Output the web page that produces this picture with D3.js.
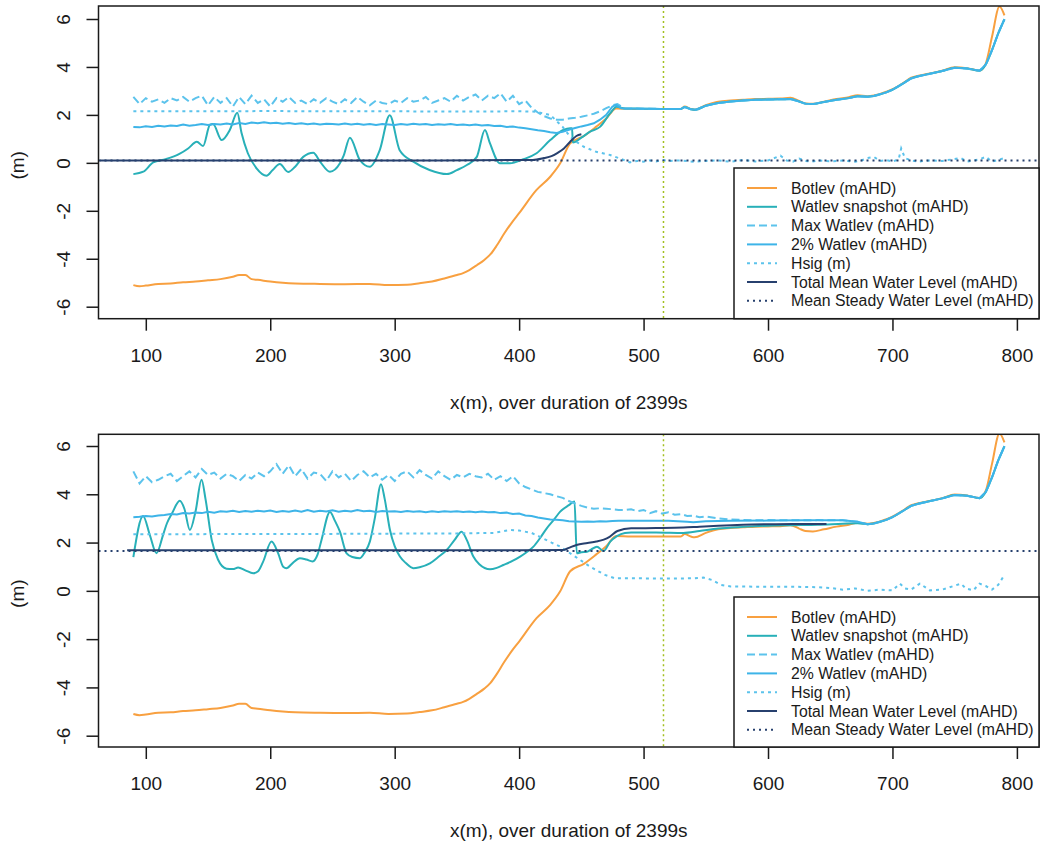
<!DOCTYPE html>
<html>
<head>
<meta charset="utf-8">
<script src="https://cdn.jsdelivr.net/npm/d3@7"></script>
<style>
  html, body { margin: 0; padding: 0; background: #fff; }
  svg { display: block; }
  text { font-family: "Liberation Sans", Arial, sans-serif; fill: #1a1a1a; }
</style>
</head>
<body>
<svg id="chart" width="1041" height="845"></svg>
<script>
// ---------------- DATA ----------------
const xTicks = [100, 200, 300, 400, 500, 600, 700, 800];
const yTicks = [-6, -4, -2, 0, 2, 4, 6];
const xTitle = "x(m), over duration of 2399s";
const yTitle = "(m)";
const markerX = 516;

const seriesNames = ["Botlev (mAHD)", "Watlev snapshot (mAHD)", "Max Watlev (mAHD)", "2% Watlev (mAHD)",
  "Hsig (m)", "Total Mean Water Level (mAHD)", "Mean Steady Water Level (mAHD)"];

// Bed level (same in both panels)
const botX = [90,95,100,110,120,130,140,150,160,170,175,180,185,190,200,210,220,240,260,280,295,310,320,330,340,350,355,360,366,372,377,382,388,394,400,414,425,433,441,452,462,470,478,490,500,510,520,530,533,538,541,550,560,570,580,590,600,610,618,625,630,636,645,655,665,672,680,685,695,700,710,715,720,740,750,760,770,775,780,786,790];
const botY = [-5.10,-5.15,-5.12,-5.05,-5.03,-4.98,-4.95,-4.90,-4.85,-4.75,-4.68,-4.68,-4.85,-4.88,-4.95,-5.00,-5.03,-5.05,-5.06,-5.05,-5.10,-5.08,-5.02,-4.95,-4.82,-4.68,-4.60,-4.47,-4.27,-4.05,-3.81,-3.45,-2.95,-2.50,-2.10,-1.13,-0.58,-0.02,0.81,1.12,1.51,1.85,2.27,2.25,2.25,2.25,2.25,2.25,2.35,2.25,2.22,2.40,2.55,2.60,2.63,2.66,2.67,2.68,2.72,2.58,2.48,2.46,2.55,2.66,2.74,2.82,2.78,2.81,2.97,3.07,3.38,3.55,3.62,3.84,3.99,3.95,3.85,4.15,5.26,6.52,6.15];

// Dry-beach surface followed by the water lines (x >= 485)
const surfX = [485,500,515,530,533,538,542,550,560,570,580,590,600,610,618,625,630,636,645,655,665,672,680,685,695,700,710,715,720,740,750,760,770,775,780,785,790];
const surfY = [2.27,2.26,2.25,2.25,2.33,2.24,2.22,2.38,2.50,2.56,2.60,2.63,2.64,2.65,2.66,2.56,2.47,2.45,2.54,2.63,2.70,2.78,2.76,2.79,2.94,3.05,3.36,3.52,3.60,3.83,3.97,3.94,3.84,4.10,4.70,5.40,5.99];

// ---- Top panel ----
const topSnapX = [90,98,106,116,127,134,141,146,151.5,154,161,167.5,173.5,177,182,189,197,202,207.7,214.4,220,226.5,234.6,240,248,256,259,264,272,280,288,296,304,315,328,342,350,358,366,372.5,376.6,384.6,392.6,403.4,414,425,435.5,441,442.5,443.2,450,457,465,473,478.4];
const topSnapY = [-0.47,-0.37,0.02,0.15,0.37,0.60,0.88,0.70,1.58,1.62,0.95,1.37,2.09,1.23,0.40,-0.23,-0.54,-0.30,-0.05,-0.38,-0.16,0.25,0.42,0.05,-0.37,-0.02,0.30,1.05,0.12,-0.16,0.53,1.99,0.53,0.05,-0.30,-0.47,-0.30,-0.09,0.25,1.37,0.81,-0.02,-0.02,0.15,0.40,0.95,1.37,1.44,1.44,0.85,1.05,1.30,1.50,2.06,2.34];

const topMaxX = [90,95,100,105,110,115,120,125,130,135,140,145,150,155,160,165,170,175,180,185,190,195,200,205,210,215,220,225,230,235,240,245,250,255,260,265,270,275,280,285,290,295,300,305,310,315,320,325,330,335,340,345,350,355,360,365,370,375,380,385,390,395,400,405,410,415,420,425,430,435,440,445,450,455,460,465,470,475,479];
const topMaxY = [2.75,2.45,2.70,2.55,2.65,2.50,2.70,2.60,2.75,2.55,2.70,2.80,2.40,2.75,2.50,2.70,2.35,2.75,2.45,2.80,2.50,2.65,2.35,2.70,2.55,2.75,2.50,2.60,2.45,2.65,2.50,2.70,2.55,2.45,2.65,2.50,2.75,2.55,2.40,2.60,2.50,2.45,2.60,2.50,2.70,2.55,2.60,2.75,2.50,2.60,2.70,2.55,2.80,2.60,2.75,2.85,2.60,2.80,2.70,2.90,2.55,2.80,2.45,2.60,2.30,2.10,1.95,1.85,1.80,1.80,1.85,1.88,1.92,1.98,2.05,2.15,2.28,2.40,2.45];

const top2X = [90,95,100,105,110,115,120,125,130,135,140,145,150,155,160,165,170,175,180,185,190,195,200,205,210,215,220,225,230,235,240,245,250,255,260,265,270,275,280,285,290,295,300,305,310,315,320,325,330,335,340,345,350,355,360,365,370,375,380,385,390,395,400,405,410,415,420,425,430,435,440,445,450,455,460,465,470,475,478,482];
const top2Y = [1.50,1.48,1.53,1.50,1.55,1.52,1.56,1.54,1.60,1.55,1.58,1.62,1.58,1.62,1.60,1.64,1.60,1.66,1.62,1.68,1.65,1.69,1.65,1.67,1.63,1.66,1.62,1.65,1.61,1.64,1.60,1.63,1.62,1.60,1.64,1.60,1.63,1.59,1.62,1.58,1.62,1.60,1.58,1.62,1.59,1.63,1.60,1.62,1.58,1.61,1.59,1.62,1.58,1.60,1.57,1.60,1.56,1.58,1.54,1.55,1.50,1.52,1.47,1.44,1.40,1.36,1.33,1.28,1.25,1.30,1.38,1.45,1.52,1.58,1.65,1.80,2.00,2.35,2.42,2.28];

const topHsX = [90,150,200,250,300,350,400,410,414,420,425,430,435,441,446,452,462,473,484,489,495,500,505,510,515,520,530,540,550,560,570,580,590,600,610,615,620,625,630,635,640,650,660,670,675,680,685,690,695,700,705,707,710,715,720,730,740,755,760,770,775,780,790];
const topHsY = [2.15,2.15,2.16,2.15,2.15,2.14,2.15,2.14,2.13,2.05,2.00,1.75,1.50,1.09,0.88,0.67,0.46,0.33,0.12,0.02,0.08,0.05,0.10,0.06,0.12,0.08,0.10,0.05,0.08,0.10,0.05,0.12,0.06,0.10,0.30,0.10,0.05,0.18,0.08,0.05,0.10,0.06,0.10,0.05,0.10,0.20,0.25,0.08,0.12,0.05,0.15,0.60,0.20,0.10,0.05,0.10,0.08,0.20,0.05,0.15,0.25,0.05,0.20];

const topTmX = [63,200,300,411,420,426,431,436,441,446,450];
const topTmY = [0.10,0.10,0.10,0.12,0.20,0.28,0.42,0.60,0.88,1.12,1.19];
const topSteady = 0.10;

// ---- Bottom panel ----
const botSnapX = [90,97.8,103.2,108.6,113.9,117,121,127.3,131,135.4,140,144.8,148,153,158,164.8,170,174.2,180,186.3,190,194.3,201,206.3,210.4,213,218,223.8,229,234,238,241.2,248,252,256,261.4,266,272,276,280.1,284,289,292,296.2,300,304.2,309,314.9,320,328.3,335,341.8,348,353.8,358,363.2,368,376.6,382,387.4,395,400.8,406,411.5,417,422.2,428,433,440,444.5,446.3,450,454.5,458,462.5,467.9,473.2,478.6,485,490,510,532,545,560,580,600,620,640,660,672];
const botSnapY = [1.40,3.10,2.32,1.56,2.32,2.80,3.20,3.73,3.40,2.52,3.30,4.60,3.80,2.10,1.30,0.92,0.90,0.97,0.85,0.73,0.80,1.21,2.04,1.56,1.00,0.94,1.15,1.35,1.30,1.22,1.50,2.11,3.27,2.90,2.45,1.55,1.40,1.35,1.60,2.05,3.00,4.42,3.80,2.52,1.85,1.42,1.15,0.94,0.98,1.14,1.40,1.69,2.10,2.45,2.10,1.42,1.10,0.89,0.95,1.07,1.25,1.42,1.60,1.83,2.20,2.59,2.95,3.28,3.55,3.70,1.56,1.60,1.62,1.72,1.83,1.65,2.04,2.27,2.40,2.42,2.42,2.40,2.48,2.58,2.65,2.70,2.72,2.74,2.78,2.80];

const botMaxX = [90,95,100,105,110,115,120,125,130,135,140,145,150,155,160,165,170,175,180,185,190,195,200,205,210,215,220,225,230,235,240,245,250,255,260,265,270,275,280,285,290,295,300,305,310,315,320,325,330,335,340,345,350,355,360,365,370,375,380,385,390,395,400,405,410,415,420,425,430,435,440,445,450,455,460,465,470,475,480,485,490,495,500,505,510,515,520,525,530,535,540,545,550,560,570,580,590,600,620,640,660,672];
const botMaxY = [4.95,4.45,4.75,4.50,4.60,4.75,4.85,4.55,4.75,4.95,4.70,5.05,4.80,4.90,4.65,4.85,4.75,4.55,4.80,4.65,4.90,4.75,4.95,5.25,4.85,5.20,4.75,5.05,4.65,4.90,4.85,4.55,4.95,4.70,4.85,4.55,4.80,4.95,4.70,4.85,4.60,4.80,4.55,4.85,4.95,4.70,5.00,4.80,4.65,4.95,4.75,4.60,4.80,4.70,4.85,4.75,4.70,4.85,4.60,4.75,4.55,4.75,4.45,4.30,4.20,4.10,4.05,4.00,3.92,3.85,3.72,3.62,3.52,3.45,3.40,3.42,3.40,3.38,3.35,3.35,3.38,3.30,3.35,3.22,3.30,3.20,3.25,3.15,3.18,3.10,3.12,3.05,3.08,3.00,2.96,2.94,2.92,2.93,2.92,2.93,2.92,2.86];

const bot2X = [90,95,100,105,110,115,120,125,130,135,140,145,150,155,160,165,170,175,180,185,190,195,200,205,210,215,220,225,230,235,240,245,250,255,260,265,270,275,280,285,290,295,300,305,310,315,320,325,330,335,340,345,350,355,360,365,370,375,380,385,390,395,400,405,410,415,420,425,430,435,440,445,450,455,460,465,470,475,480,500,520,535,540,550,570,600,630,660,672];
const bot2Y = [3.05,3.07,3.10,3.08,3.12,3.14,3.18,3.16,3.22,3.20,3.24,3.22,3.28,3.24,3.30,3.28,3.32,3.27,3.31,3.28,3.32,3.29,3.33,3.27,3.31,3.28,3.33,3.28,3.35,3.28,3.32,3.29,3.34,3.28,3.32,3.29,3.35,3.30,3.32,3.27,3.31,3.29,3.30,3.27,3.31,3.28,3.30,3.26,3.30,3.27,3.30,3.28,3.30,3.27,3.29,3.26,3.29,3.26,3.27,3.22,3.24,3.18,3.20,3.12,3.10,3.04,3.00,2.96,2.95,2.92,2.88,2.87,2.86,2.87,2.86,2.88,2.87,2.89,2.90,2.90,2.90,2.86,2.84,2.88,2.90,2.91,2.92,2.92,2.86];

const botHsX = [90,150,200,250,300,350,380,385,392,400,410,419,426,433,445,457,469,477,490,520,540,548,555,562,570,600,620,640,650,660,670,680,690,700,706,710,715,722,730,740,755,759,765,770,775,780,785,790];
const botHsY = [2.34,2.35,2.36,2.36,2.37,2.38,2.40,2.45,2.52,2.50,2.40,2.18,2.00,1.83,1.42,1.00,0.66,0.52,0.52,0.51,0.52,0.55,0.45,0.25,0.18,0.17,0.17,0.15,0.12,0.05,0.10,0.00,0.05,0.02,0.30,0.10,0.05,0.30,0.02,0.05,0.30,0.10,0.02,0.30,0.20,0.05,0.25,0.66];

const botTmX = [85,200,300,400,435,440,446,455,462,468,473,479,490,510,532,545,560,580,600,620,647];
const botTmY = [1.68,1.68,1.68,1.68,1.69,1.78,1.90,1.98,2.04,2.12,2.25,2.48,2.59,2.60,2.62,2.66,2.70,2.74,2.76,2.77,2.77];
const botSteady = 1.65;

// ---------------- STYLES ----------------
const colors = {
  bot: "#f8a040", snap: "#28b0b8", max: "#5cc3ec", p2: "#3db4e8", hs: "#5cc3ec", tm: "#27406e", ms: "#27406e", marker: "#a3bf1f"
};
const dashMax = "8,4", dashHs = "3,4", dashMs = "2,4";

// ---------------- DRAW ----------------
const svg = d3.select("#chart");
const FONT_AX = 19, FONT_LEG = 15.8;
const left = 98.5, right = 1039;

const panels = [
  { top: 6, bottom: 318.7, y6: 19, yn6: 306.7, tickLabY: 355, titleY: 402, legTop: 168,
    snapX: topSnapX, snapY: topSnapY, snapSurfFrom: 485,
    maxX: topMaxX, maxY: topMaxY, maxSurfFrom: 485,
    p2X: top2X, p2Y: top2Y, p2SurfFrom: 485,
    hsX: topHsX, hsY: topHsY, tmX: topTmX, tmY: topTmY, steady: topSteady, id: "t" },
  { top: 434.3, bottom: 747, y6: 446, yn6: 735.7, tickLabY: 783, titleY: 830, legTop: 597,
    snapX: botSnapX, snapY: botSnapY, snapSurfFrom: 680,
    maxX: botMaxX, maxY: botMaxY, maxSurfFrom: 680,
    p2X: bot2X, p2Y: bot2Y, p2SurfFrom: 680,
    hsX: botHsX, hsY: botHsY, tmX: botTmX, tmY: botTmY, steady: botSteady, id: "b" }
];

const x = d3.scaleLinear().domain([100, 800]).range([145.8, 1016.9]);

function pts(xs, ys) { return xs.map((v, i) => [v, ys[i]]); }
function withSurf(xs, ys, from) {
  const a = pts(xs, ys);
  surfX.forEach((v, i) => { if (v >= from) a.push([v, surfY[i]]); });
  return a;
}
const fmt = d => String(d); // R-style hyphen minus

panels.forEach(p => {
  const y = d3.scaleLinear().domain([-6, 6]).range([p.yn6, p.y6]);
  const g = svg.append("g");

  const clipId = "clip-" + p.id;
  svg.append("clipPath").attr("id", clipId).append("rect")
    .attr("x", left).attr("y", p.top).attr("width", right - left).attr("height", p.bottom - p.top);

  const plot = g.append("g").attr("clip-path", `url(#${clipId})`);
  const lineSmooth = d3.line().x(d => x(d[0])).y(d => y(d[1])).curve(d3.curveMonotoneX);
  const lineStraight = d3.line().x(d => x(d[0])).y(d => y(d[1]));

  plot.append("path").attr("d", lineSmooth(pts(botX, botY)))
    .attr("fill", "none").attr("stroke", colors.bot).attr("stroke-width", 2);
  plot.append("path").attr("d", lineSmooth(withSurf(p.snapX, p.snapY, p.snapSurfFrom)))
    .attr("fill", "none").attr("stroke", colors.snap).attr("stroke-width", 2);
  plot.append("path").attr("d", lineStraight(withSurf(p.maxX, p.maxY, p.maxSurfFrom)))
    .attr("fill", "none").attr("stroke", colors.max).attr("stroke-width", 2).attr("stroke-dasharray", dashMax);
  plot.append("path").attr("d", lineStraight(withSurf(p.p2X, p.p2Y, p.p2SurfFrom)))
    .attr("fill", "none").attr("stroke", colors.p2).attr("stroke-width", 2);
  plot.append("path").attr("d", lineStraight(pts(p.hsX, p.hsY)))
    .attr("fill", "none").attr("stroke", colors.hs).attr("stroke-width", 2).attr("stroke-dasharray", dashHs);
  plot.append("path").attr("d", lineSmooth(pts(p.tmX, p.tmY)))
    .attr("fill", "none").attr("stroke", colors.tm).attr("stroke-width", 2);
  plot.append("line").attr("x1", left).attr("x2", right).attr("y1", y(p.steady)).attr("y2", y(p.steady))
    .attr("stroke", colors.ms).attr("stroke-width", 2).attr("stroke-dasharray", dashMs);
  plot.append("line").attr("x1", x(markerX)).attr("x2", x(markerX)).attr("y1", p.top).attr("y2", p.bottom)
    .attr("stroke", colors.marker).attr("stroke-width", 1.5).attr("stroke-dasharray", "2,3");

  g.append("rect").attr("x", left).attr("y", p.top).attr("width", right - left).attr("height", p.bottom - p.top)
    .attr("fill", "none").attr("stroke", "#1a1a1a").attr("stroke-width", 1.5);

  const xAxis = d3.axisBottom(x).tickValues(xTicks).tickSize(12).tickPadding(0).tickFormat(fmt);
  const xg = g.append("g").attr("transform", `translate(0,${p.bottom})`).call(xAxis);
  xg.select(".domain").remove();
  xg.selectAll(".tick line").attr("stroke", "#1a1a1a").attr("stroke-width", 1.5);
  xg.selectAll(".tick text").attr("y", p.tickLabY - p.bottom).attr("dy", "0.35em")
    .style("font-size", FONT_AX + "px").style("font-family", "Liberation Sans, Arial, sans-serif").attr("fill", "#1a1a1a");

  const yAxis = d3.axisLeft(y).tickValues(yTicks).tickSize(12).tickPadding(0).tickFormat(fmt);
  const yg = g.append("g").attr("transform", `translate(${left},0)`).call(yAxis);
  yg.select(".domain").remove();
  yg.selectAll(".tick line").attr("stroke", "#1a1a1a").attr("stroke-width", 1.5);
  yg.selectAll(".tick text")
    .attr("x", null).attr("dy", null)
    .attr("text-anchor", "middle").attr("dominant-baseline", "central")
    .attr("transform", `translate(${63 - left},0) rotate(-90)`)
    .style("font-size", FONT_AX + "px").style("font-family", "Liberation Sans, Arial, sans-serif").attr("fill", "#1a1a1a");

  g.append("text").attr("x", (left + right) / 2).attr("y", p.titleY).attr("dy", "0.35em")
    .attr("text-anchor", "middle").style("font-size", FONT_AX + "px").text(xTitle);
  const yc = (p.top + p.bottom) / 2 + 3;
  g.append("text").attr("transform", `translate(17.5,${yc}) rotate(-90)`).attr("dominant-baseline", "central")
    .attr("text-anchor", "middle").style("font-size", FONT_AX + "px").text(yTitle);

  const legLeft = 734, legTop = p.legTop;
  const lg = g.append("g");
  lg.append("rect").attr("x", legLeft).attr("y", legTop).attr("width", right - legLeft).attr("height", p.bottom - legTop)
    .attr("fill", "#fff").attr("stroke", "#1a1a1a").attr("stroke-width", 1.5);
  const legStyles = [
    { c: colors.bot, d: null }, { c: colors.snap, d: null }, { c: colors.max, d: dashMax }, { c: colors.p2, d: null },
    { c: colors.hs, d: dashHs }, { c: colors.tm, d: null }, { c: colors.ms, d: dashMs }
  ];
  seriesNames.forEach((name, i) => {
    const ry = legTop + 20 + i * 18.8;
    lg.append("line").attr("x1", 747).attr("x2", 777).attr("y1", ry).attr("y2", ry)
      .attr("stroke", legStyles[i].c).attr("stroke-width", 2)
      .attr("stroke-dasharray", legStyles[i].d);
    lg.append("text").attr("x", 791).attr("y", ry).attr("dominant-baseline", "central")
      .style("font-size", FONT_LEG + "px").text(name);
  });
});
</script>
</body>
</html>
